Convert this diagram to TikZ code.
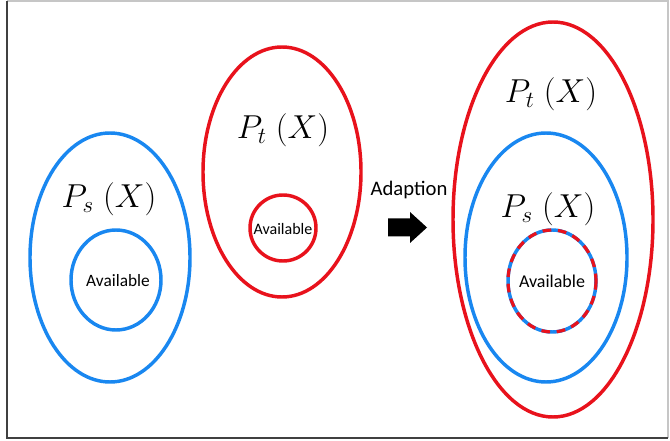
\documentclass[tikz,border=0pt]{standalone}
\usepackage{fontspec}
\setsansfont{Carlito}
\usepackage{tikz}
\definecolor{setblue}{RGB}{25,135,240}
\definecolor{setred}{RGB}{232,18,28}
\tikzset{
  blue set/.style = {setblue, line width = 2.6pt},
  red set/.style = {setred, line width = 2.6pt},
  mixed set/.style = {setred, line width = 2.4pt, dash pattern = on 6.5pt off 5pt},
  set label/.style = {font = \fontsize{23}{28}\selectfont},
  avail label/.style = {font = \sffamily\fontsize{13}{15}\selectfont, inner sep = 0pt},
}

\begin{document}
\begin{tikzpicture}[x = 0.75pt, y = -0.75pt]
            \useasboundingbox (0,0) rectangle (670,441);
            % frame
            \draw[gray!45, line width = 1pt] (7,1) -- (668,1) -- (668,438);
            \draw[black!75, line width = 1.5pt] (7,1) -- (7,438) -- (668,438);

            % source domain
            \draw[blue set] (110,257.5) ellipse [x radius = 80, y radius = 124.5];
            \draw[blue set] (116,280) ellipse [x radius = 45, y radius = 50];
            \node[set label] (ps) at (109,199) {$P_s\ (X)$};
            \node[avail label] (availS) at (118,281) {Available};

            % target domain
            \draw[red set] (282,172) ellipse [x radius = 79, y radius = 125];
            \draw[red set] (283,228) circle [radius = 33];
            \node[set label] (pt) at (283,130) {$P_t\ (X)$};
            \node[avail label, font = \sffamily\fontsize{12}{14}\selectfont] (availT) at (283,229) {Available};

            % adaption
            \node[font = \sffamily\fontsize{15.5}{18}\selectfont] (adapt) at (409,190) {Adaption};
            \fill (388,218.5) -- (410,218.5) -- (410,212) -- (427,227.5) -- (410,243) -- (410,236.5) -- (388,236.5) -- cycle;

            % adapted domain
            \draw[red set] (553,219.5) ellipse [x radius = 100, y radius = 197.5];
            \draw[blue set] (546,257.5) ellipse [x radius = 81, y radius = 124.5];
            \draw[blue set] (552,281) ellipse [x radius = 44, y radius = 51];
            \draw[mixed set] (552,281) ellipse [x radius = 44, y radius = 51];
            \node[set label] (ptA) at (551,94) {$P_t\ (X)$};
            \node[set label] (psA) at (548,209) {$P_s\ (X)$};
            \node[avail label, font = \sffamily\fontsize{13.5}{15}\selectfont] (availA) at (552,281) {Available};
\end{tikzpicture}
\end{document}
